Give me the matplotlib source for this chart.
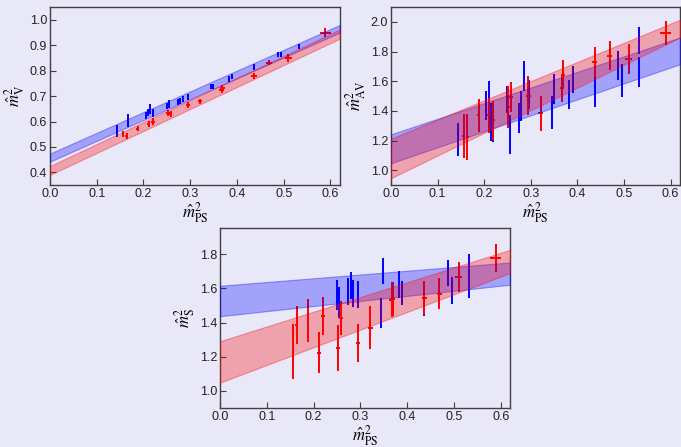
import matplotlib
matplotlib.use("Agg")
import matplotlib.pyplot as plt
import numpy as np

plt.rcParams["font.family"] = "Liberation Sans"
plt.rcParams["mathtext.fontset"] = "stix"

# ---- data ----
red_x = [0.156, 0.164, 0.188, 0.211, 0.220, 0.252, 0.258, 0.295, 0.321, 0.367,
         0.369, 0.437, 0.469, 0.510, 0.589]
red_xerr = [0.003, 0.003, 0.003, 0.004, 0.004, 0.004, 0.004, 0.005, 0.005, 0.005,
            0.005, 0.006, 0.006, 0.008, 0.012]
blue_x = [0.143, 0.167, 0.205, 0.210, 0.215, 0.220, 0.250, 0.255, 0.274, 0.279,
          0.285, 0.296, 0.345, 0.349, 0.382, 0.390, 0.437, 0.487, 0.495, 0.532, 0.533]
blue_xerr = 0.002

nan = np.nan

# vector channel
red_v = [0.551, 0.543, 0.571, 0.590, 0.599, 0.633, 0.629, 0.665, 0.679, 0.723,
         0.731, 0.779, 0.831, 0.850, 0.949]
red_v_err = [0.010, 0.012, 0.010, 0.012, 0.014, 0.012, 0.012, 0.012, 0.010, 0.012,
             0.012, 0.012, 0.010, 0.014, 0.018]
blue_v = [0.564, 0.603, 0.622, 0.636, 0.648, 0.635, 0.661, 0.668, 0.677, 0.681,
          0.687, 0.696, 0.739, 0.739, 0.767, 0.778, 0.814, 0.864, 0.864, 0.894, 0.896]
blue_v_err = [0.024, 0.026, 0.014, 0.014, 0.020, 0.016, 0.012, 0.016, 0.012, 0.012,
              0.012, 0.012, 0.010, 0.010, 0.012, 0.010, 0.012, 0.010, 0.010, 0.010, 0.010]

# axial-vector channel
red_av = [1.231, 1.224, 1.370, 1.370, 1.336, 1.428, 1.496, 1.504, 1.383, 1.553,
          1.645, 1.728, 1.773, 1.751, 1.926]
red_av_err = [0.15, 0.155, 0.11, 0.12, 0.13, 0.14, 0.10, 0.13, 0.12, 0.09,
              0.10, 0.10, 0.10, 0.10, 0.08]
blue_av = [1.208, nan, 1.437, 1.504, 1.325, 1.320, 1.477, 1.242, 1.354, 1.433,
           1.634, 1.511, 1.388, 1.549, 1.511, 1.612, 1.527, 1.706, 1.605, 1.874, 1.661]
blue_av_err = [0.11, nan, 0.095, 0.10, 0.13, 0.13, 0.09, 0.13, 0.10, 0.10,
               0.10, 0.10, 0.11, 0.10, 0.10, 0.09, 0.10, 0.10, 0.11, 0.09, 0.10]

# scalar channel
red_s = [1.233, 1.386, 1.411, 1.223, 1.437, 1.253, 1.427, 1.282, 1.369, 1.534,
         1.536, 1.544, 1.569, 1.666, 1.777]
red_s_err = [0.16, 0.11, 0.125, 0.12, 0.11, 0.135, 0.10, 0.11, 0.125, 0.10,
             0.10, 0.10, 0.09, 0.09, 0.08]
blue_s = [nan, nan, nan, nan, nan, nan, 1.563, 1.515, 1.582, 1.615,
          1.569, 1.563, 1.456, 1.699, 1.621, 1.571, 1.524, 1.689, 1.587, 1.723, 1.621]
blue_s_err = [nan, nan, nan, nan, nan, nan, 0.087, 0.09, 0.08, 0.08,
              0.08, 0.08, 0.09, 0.076, 0.08, 0.07, 0.085, 0.075, 0.08, 0.08, 0.08]

# fit bands: lower / upper edge at x = 0 and x = 0.62
band_x = [0.0, 0.62]
v_blue_lo, v_blue_hi = [0.442, 0.950], [0.474, 0.980]
v_red_lo, v_red_hi = [0.390, 0.926], [0.425, 0.962]
av_blue_lo, av_blue_hi = [1.047, 1.715], [1.242, 1.895]
av_red_lo, av_red_hi = [0.946, 1.895], [1.213, 2.015]
s_blue_lo, s_blue_hi = [1.437, 1.621], [1.615, 1.751]
s_red_lo, s_red_hi = [1.049, 1.689], [1.291, 1.825]

bg = "#e8e8f8"
frame = "#404040"

fig = plt.figure(figsize=(6.81, 4.47), dpi=100, facecolor=bg)
ax1 = fig.add_axes([0.0734, 0.586, 0.4256, 0.398])
ax2 = fig.add_axes([0.5740, 0.586, 0.4245, 0.398])
ax3 = fig.add_axes([0.3230, 0.087, 0.4260, 0.402])

panels = [
    (ax1, red_v, red_v_err, blue_v, blue_v_err,
     (v_blue_lo, v_blue_hi, v_red_lo, v_red_hi), (0.35, 1.05),
     np.arange(0.4, 1.01, 0.1), r"$\hat{m}^2_{\mathrm{V}}$"),
    (ax2, red_av, red_av_err, blue_av, blue_av_err,
     (av_blue_lo, av_blue_hi, av_red_lo, av_red_hi), (0.9, 2.1),
     np.arange(1.0, 2.01, 0.2), r"$\hat{m}^2_{\mathrm{AV}}$"),
    (ax3, red_s, red_s_err, blue_s, blue_s_err,
     (s_blue_lo, s_blue_hi, s_red_lo, s_red_hi), (0.9, 1.95),
     np.arange(1.0, 1.81, 0.2), r"$\hat{m}^2_{\mathrm{S}}$"),
]

for ax, ry, rye, by, bye, bands, ylim, yticks, ylabel in panels:
    ax.set_facecolor(bg)
    ax.errorbar(blue_x, by, yerr=bye, xerr=blue_xerr, fmt="none",
                ecolor="#0000ff", elinewidth=1.4, capsize=0, zorder=2)
    ax.errorbar(red_x, ry, yerr=rye, xerr=red_xerr, fmt="none",
                ecolor="#ff0000", elinewidth=1.4, capsize=0, zorder=2)
    blo, bhi, rlo, rhi = bands
    ax.fill_between(band_x, blo, bhi, facecolor=(0, 0, 1, 0.3),
                    edgecolor=(0, 0, 1, 0.35), lw=0.8, zorder=3)
    ax.fill_between(band_x, rlo, rhi, facecolor=(1, 0, 0, 0.3),
                    edgecolor=(1, 0, 0, 0.35), lw=0.8, zorder=4)
    ax.set_xlim(0, 0.62)
    ax.set_ylim(*ylim)
    ax.set_xticks(np.arange(0, 0.61, 0.1))
    ax.set_xticklabels([f"{t:.1f}" for t in np.arange(0, 0.61, 0.1)])
    ax.set_yticks(yticks)
    ax.set_yticklabels([f"{t:.1f}" for t in yticks])
    ax.tick_params(direction="in", length=4, width=0.8, color=frame,
                   labelsize=9, pad=2, labelcolor="#222222")
    for sp in ax.spines.values():
        sp.set_color(frame)
        sp.set_linewidth(1.0)
    ax.set_xlabel(r"$\hat{m}^2_{\mathrm{PS}}$", fontsize=12, labelpad=0)
    ax.set_ylabel(ylabel, fontsize=12, labelpad=2)

fig.savefig("out.png", dpi=100, facecolor=bg)
